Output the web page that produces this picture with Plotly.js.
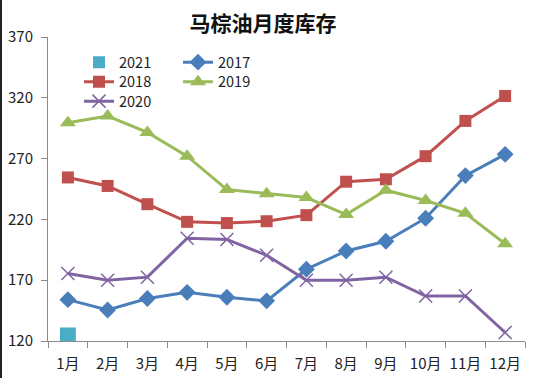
<!DOCTYPE html>
<html>
<head>
<meta charset="utf-8">
<script src="https://cdn.plot.ly/plotly-3.0.1.min.js"></script>
<style>
html,body{margin:0;padding:0;background:#fff;}
#chart{width:550px;height:378px;position:relative;}
#edge{position:absolute;left:0;top:0;width:2px;height:378px;background:#222;z-index:10;}
</style>
</head>
<body>
<div id="chart"></div>
<div id="edge"></div>
<script>
const months = ['1月','2月','3月','4月','5月','6月','7月','8月','9月','10月','11月','12月'];
const y2021 = [131, null, null, null, null, null, null, null, null, null, null, null];
const y2017 = [154, 145.5, 155, 160, 156, 153, 179, 194, 202, 221, 256, 273.5];
const y2018 = [254.5, 247.5, 232.5, 218, 217, 218.5, 223.5, 251, 253, 272, 301, 321.5];
const y2019 = [299.5, 305, 291.5, 272, 244.5, 241, 238, 224, 244, 235.5, 225, 200];
const y2020 = [175.5, 170, 172.5, 204.5, 203.5, 190.5, 170, 170, 172.5, 157, 157, 127];

const font = "'Noto Sans CJK SC', 'Noto Sans', sans-serif";

const traces = [
  {type:'bar', name:'2021', x:months, y:y2021, width:0.4,
   marker:{color:'#4BACC6'}, legend:'legend'},
  {type:'scatter', mode:'lines+markers', name:'2017', x:months, y:y2017,
   line:{color:'#4A7EBB', width:3}, marker:{symbol:'diamond', size:13, color:'#4A7EBB'}, legend:'legend'},
  {type:'scatter', mode:'lines+markers', name:'2018', x:months, y:y2018,
   line:{color:'#C0504D', width:3}, marker:{symbol:'square', size:12, color:'#C0504D'}, legend:'legend2'},
  {type:'scatter', mode:'lines+markers', name:'2019', x:months, y:y2019,
   line:{color:'#9BBB59', width:3}, marker:{symbol:'triangle-up', size:14, color:'#9BBB59'}, legend:'legend2'},
  {type:'scatter', mode:'lines+markers', name:'2020', x:months, y:y2020,
   line:{color:'#8064A2', width:3}, marker:{symbol:'x-thin-open', size:13, color:'#8064A2', line:{color:'#8064A2', width:1.5}}, legend:'legend3'}
];

const legendBase = {
  font:{family:font, size:14.5, color:'#222'},
  bgcolor:'rgba(0,0,0,0)', borderwidth:0, tracegroupgap:0,
  xref:'paper', yref:'paper', xanchor:'left', yanchor:'top',
  orientation:'h', itemwidth:30, entrywidth:54, entrywidthmode:'pixels',
  x:(79-48)/477
};
function rowY(center){ return 1 - (center - 16.5 - 37)/304; }

const layout = {
  width:550, height:378,
  margin:{l:48, r:25, t:37, b:37, autoexpand:false},
  paper_bgcolor:'#fff', plot_bgcolor:'#fff',
  font:{family:font, size:15, color:'#222'},
  title:{text:'<b>马棕油月度库存</b>', font:{family:font, size:21, color:'#111'},
         x:263/550, xref:'container', xanchor:'center', y:1-24/378, yref:'container', yanchor:'middle'},
  showlegend:true,
  legend:Object.assign({}, legendBase, {y:rowY(62.7)}),
  legend2:Object.assign({}, legendBase, {y:rowY(82.3)}),
  legend3:Object.assign({}, legendBase, {y:rowY(101.7)}),
  xaxis:{type:'category', range:[-0.5, 11.5], autorange:false, showgrid:false, zeroline:false, showline:true, linecolor:'#8a8a8a', linewidth:1,
         ticks:'outside', tickson:'boundaries', ticklen:6, tickcolor:'#8a8a8a', tickangle:0,
         tickfont:{family:font, size:15, color:'#222'}, ticklabelstandoff:9},
  yaxis:{range:[120,370], autorange:false, tick0:120, dtick:50, showgrid:false, zeroline:false, showline:true,
         linecolor:'#8a8a8a', linewidth:1, ticks:'outside', ticklen:6, tickcolor:'#8a8a8a',
         tickfont:{family:font, size:15, color:'#222'}, ticklabelstandoff:5}
};

Plotly.newPlot('chart', traces, layout, {displayModeBar:false, staticPlot:true});
</script>
</body>
</html>
